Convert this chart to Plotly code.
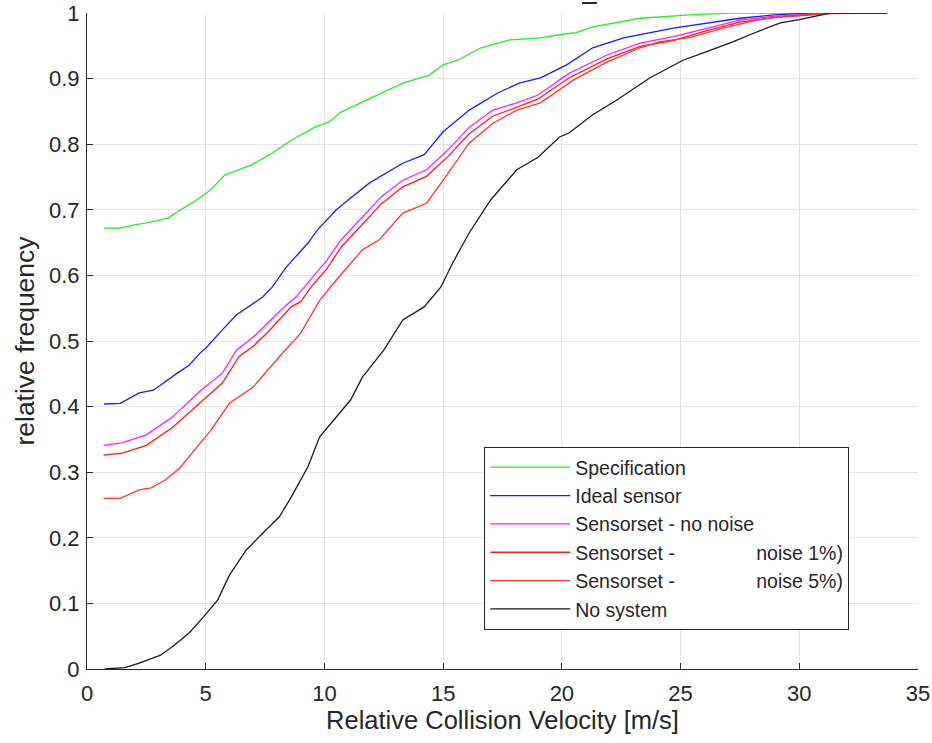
import plotly.graph_objects as go

# Cumulative distributions of relative collision velocity per configuration
spec_x = [0.72, 1.4, 2.0, 2.5, 3.4, 3.8, 4.5, 5.2, 5.8, 6.9, 7.7, 8.6, 9.6, 10.2, 10.7, 11.6, 12.4,
          13.3, 14.4, 15.0, 15.6, 16.6, 17.8, 19.1, 20.1, 20.6, 21.3, 22.3, 23.3, 25.4, 27.1, 30.0, 33.7]
spec_y = [0.672, 0.672, 0.677, 0.680, 0.687, 0.697, 0.712, 0.730, 0.753, 0.768, 0.784, 0.806, 0.826,
          0.834, 0.849, 0.864, 0.878, 0.893, 0.905, 0.921, 0.928, 0.947, 0.959, 0.962, 0.968, 0.970,
          0.979, 0.986, 0.992, 0.997, 1.0, 1.0, 1.0]

ideal_x = [0.72, 1.4, 2.2, 2.8, 3.8, 4.3, 4.8, 5.0, 5.7, 6.3, 7.4, 7.8, 8.4, 9.3, 9.7, 10.5, 11.0,
           11.9, 13.3, 14.2, 15.0, 16.1, 17.3, 18.2, 19.1, 20.2, 21.3, 22.6, 24.7, 26.1, 27.5, 28.9,
           30.5, 33.7]
ideal_y = [0.404, 0.405, 0.421, 0.425, 0.451, 0.463, 0.483, 0.489, 0.517, 0.540, 0.567, 0.582, 0.613,
           0.649, 0.669, 0.700, 0.715, 0.741, 0.771, 0.784, 0.819, 0.852, 0.878, 0.893, 0.901, 0.921,
           0.947, 0.962, 0.977, 0.985, 0.992, 0.997, 1.0, 1.0]

nonoise_x = [0.7, 1.5, 2.5, 3.6, 4.8, 5.7, 6.3, 7.0, 7.6, 8.3, 8.8, 9.5, 10.1, 10.7, 11.6, 12.4, 13.3,
             14.3, 15.2, 16.1, 17.1, 18.1, 19.0, 20.3, 21.9, 23.3, 24.7, 26.1, 27.5, 28.9, 31.3, 33.7]
nonoise_y = [0.341, 0.345, 0.357, 0.384, 0.425, 0.451, 0.486, 0.506, 0.527, 0.552, 0.567, 0.598, 0.623,
             0.654, 0.689, 0.720, 0.745, 0.761, 0.791, 0.826, 0.852, 0.863, 0.875, 0.908, 0.936, 0.954,
             0.964, 0.977, 0.989, 0.995, 1.0, 1.0]

noise1_x = [0.7, 1.5, 2.5, 3.6, 4.8, 5.7, 6.4, 7.0, 7.6, 8.6, 9.0, 9.5, 10.1, 10.7, 11.6, 12.4, 13.3,
            14.3, 15.2, 16.1, 17.1, 18.1, 19.0, 20.3, 21.9, 23.3, 24.7, 26.1, 27.5, 28.9, 31.3, 33.7]
noise1_y = [0.326, 0.329, 0.341, 0.368, 0.407, 0.436, 0.476, 0.492, 0.513, 0.552, 0.560, 0.585, 0.610,
            0.643, 0.678, 0.709, 0.735, 0.751, 0.781, 0.816, 0.843, 0.856, 0.869, 0.901, 0.930, 0.949,
            0.958, 0.973, 0.986, 0.993, 0.999, 1.0]

noise5_x = [0.7, 1.4, 2.2, 2.7, 3.3, 3.9, 4.6, 5.2, 6.0, 7.0, 8.1, 9.0, 9.8, 10.5, 11.6, 12.3, 13.3,
            14.3, 15.0, 16.1, 17.1, 18.1, 19.1, 20.5, 21.9, 23.3, 24.1, 25.4, 26.8, 28.2, 29.2, 31.3, 33.7]
noise5_y = [0.260, 0.260, 0.273, 0.276, 0.288, 0.306, 0.337, 0.363, 0.405, 0.430, 0.476, 0.512, 0.562,
            0.593, 0.639, 0.654, 0.695, 0.710, 0.745, 0.802, 0.832, 0.852, 0.863, 0.898, 0.925, 0.947,
            0.956, 0.963, 0.977, 0.989, 0.994, 1.0, 1.0]

nosys_x = [0.75, 1.6, 2.2, 3.1, 3.7, 4.3, 4.9, 5.5, 6.0, 6.7, 7.4, 8.1, 8.6, 9.3, 9.8, 10.5, 11.1, 11.6,
           12.5, 13.3, 14.2, 14.9, 15.4, 16.1, 17.0, 18.1, 19.0, 19.9, 20.3, 21.3, 22.3, 23.7, 24.7,
           25.1, 26.1, 27.2, 28.2, 29.2, 30.0, 30.7, 31.3, 33.7]
nosys_y = [0.0, 0.002, 0.009, 0.021, 0.037, 0.055, 0.079, 0.105, 0.143, 0.181, 0.207, 0.232, 0.262,
           0.308, 0.354, 0.384, 0.410, 0.445, 0.486, 0.532, 0.552, 0.582, 0.619, 0.665, 0.715, 0.761,
           0.780, 0.811, 0.817, 0.845, 0.867, 0.901, 0.921, 0.928, 0.941, 0.956, 0.971, 0.985, 0.990,
           0.996, 1.0, 1.0]

GAP = "\u00a0" * 15
series = [
    ("Specification", spec_x, spec_y, "#22ee22"),
    ("Ideal sensor", ideal_x, ideal_y, "#1a1aff"),
    ("Sensorset - no noise", nonoise_x, nonoise_y, "#ff1aff"),
    ("Sensorset -" + GAP + "noise 1%)", noise1_x, noise1_y, "#ff1a1a"),
    ("Sensorset -" + GAP + "noise 5%)", noise5_x, noise5_y, "#ff3333"),
    ("No system", nosys_x, nosys_y, "#1a1a1a"),
]

x_ticks = [0, 5, 10, 15, 20, 25, 30, 35]
y_ticks = [0, 0.1, 0.2, 0.3, 0.4, 0.5, 0.6, 0.7, 0.8, 0.9, 1]
y_tick_text = ["0", "0.1", "0.2", "0.3", "0.4", "0.5", "0.6", "0.7", "0.8", "0.9", "1"]

FONT = "Liberation Sans, Arial, sans-serif"
TEXT = "#262626"

fig = go.Figure()
for name, xs, ys, color in series:
    fig.add_trace(go.Scatter(x=xs, y=ys, mode="lines", name=name,
                             line=dict(color=color, width=1.3)))

axis_common = dict(
    showgrid=True, gridcolor="#e3e3e3", gridwidth=1,
    showline=True, linecolor=TEXT, linewidth=1,
    ticks="inside", ticklen=6, tickcolor=TEXT,
    tickfont=dict(family=FONT, size=22, color=TEXT),
    zeroline=False, mirror=False, automargin=False,
)

fig.update_layout(
    width=932, height=743,
    margin=dict(l=87, r=14, t=13, b=74),
    paper_bgcolor="white", plot_bgcolor="white",
    font=dict(family=FONT, color=TEXT),
    xaxis=dict(range=[0, 35], tickvals=x_ticks, ticklabelstandoff=5,
               title=dict(text="Relative Collision Velocity [m/s]",
                          font=dict(family=FONT, size=25.5, color=TEXT), standoff=2),
               **axis_common),
    yaxis=dict(range=[0, 1], tickvals=y_ticks, ticktext=y_tick_text, ticklabelstandoff=2,
               title=dict(text="relative frequency",
                          font=dict(family=FONT, size=26.5, color=TEXT), standoff=6),
               **axis_common),
    legend=dict(x=0.478, y=0.3384, xanchor="left", yanchor="top",
                bgcolor="white", bordercolor=TEXT, borderwidth=1,
                font=dict(family=FONT, size=19.5, color=TEXT),
                itemwidth=80, tracegroupgap=0),
    showlegend=True,
)

# Remnant of the title line above the axes
fig.add_shape(type="line", xref="paper", yref="paper",
              x0=0.5957, x1=0.6137, y0=1.0152, y1=1.0152,
              line=dict(color=TEXT, width=2))

fig.write_html("out.html")
